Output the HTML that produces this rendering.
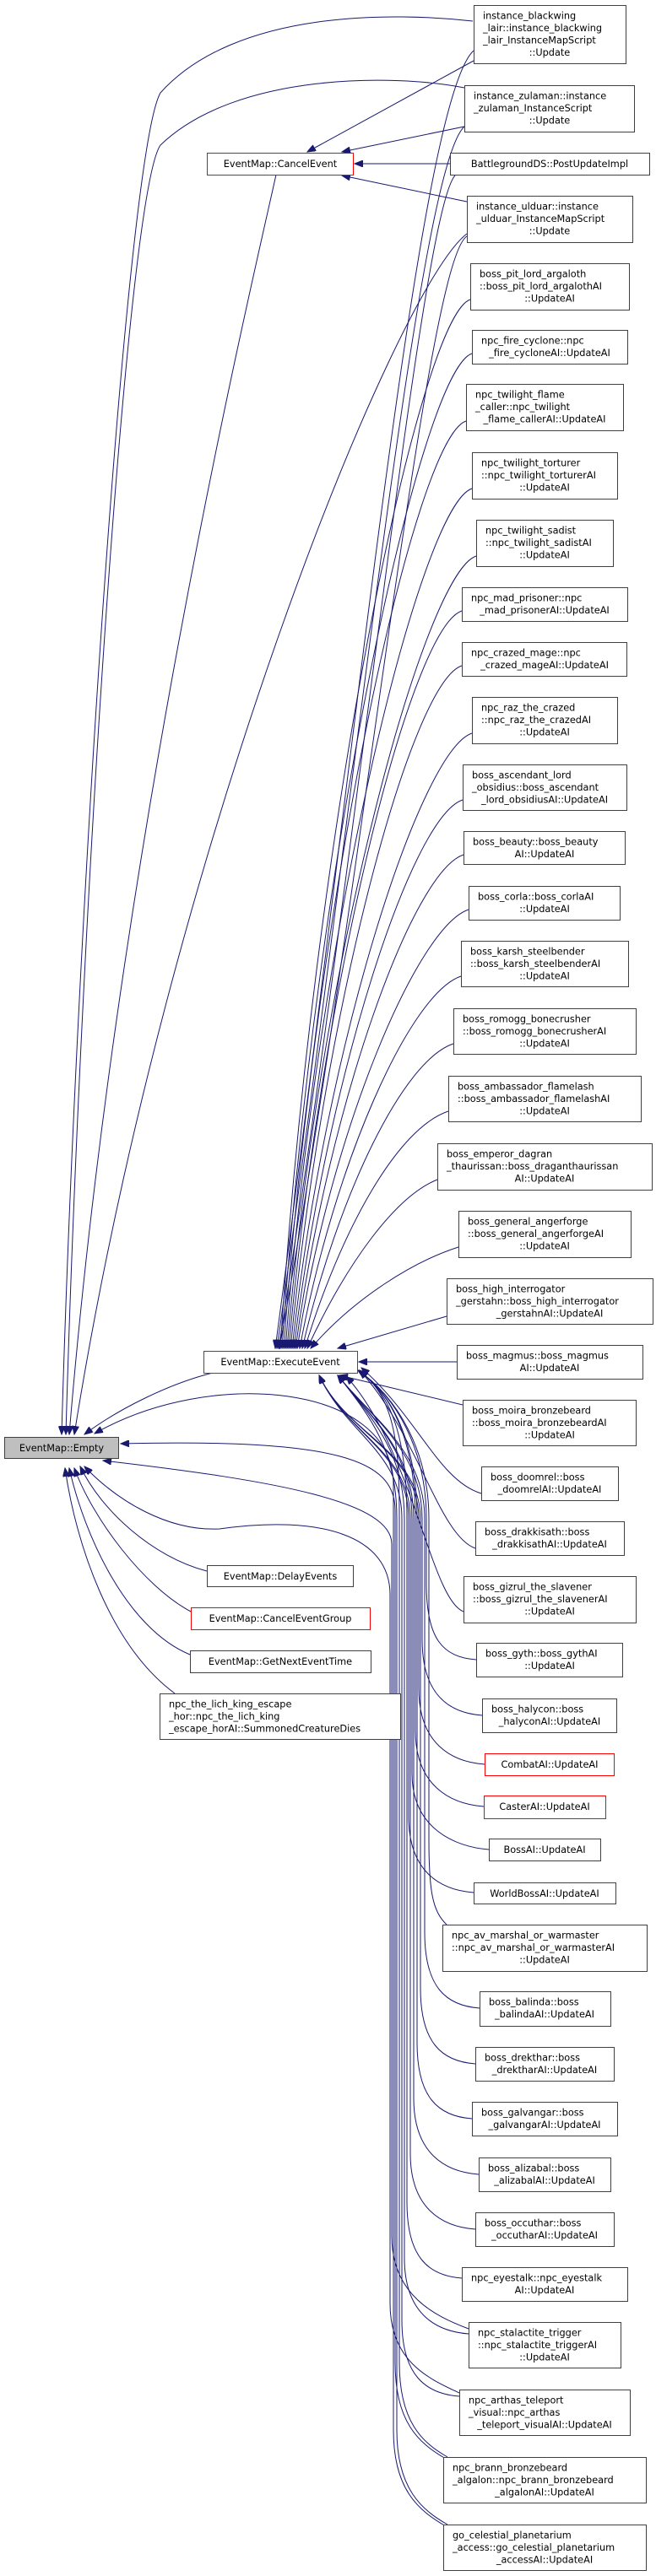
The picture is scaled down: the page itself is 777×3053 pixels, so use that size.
<!DOCTYPE html>
<html><head><meta charset="utf-8"><style>
html,body{margin:0;padding:0;background:#fff}
svg{display:block}
text{font-family:"DejaVu Sans","Liberation Sans",sans-serif;font-size:11.3px;fill:#000}
.c{text-anchor:middle}
.b{fill:#fff;stroke:#404040;stroke-width:1}
.r{fill:#fff;stroke:#ff0000;stroke-width:1}
.e path{fill:none;stroke:#191970;stroke-width:1;marker-end:url(#a)}
</style></head><body>
<svg width="777" height="3053" viewBox="0 0 777 3053" xmlns="http://www.w3.org/2000/svg">
<defs><marker id="a" markerUnits="userSpaceOnUse" markerWidth="11" markerHeight="8" refX="10" refY="4" orient="auto"><path d="M0,0 L10,4 L0,8 z" fill="#191970" stroke="#191970"/></marker></defs>
<g class="e">
<path d="M561,72 L364,180"/>
<path d="M550,150 L405,180"/>
<path d="M533,194 L420,194"/>
<path d="M553,239 L405,208"/>
<path d="M560,25 C470,15 280,10 190,110 C150,180 90,1100 73,1700"/>
<path d="M550,104 C470,88 280,85 190,172 C150,230 95,1100 78,1700"/>
<path d="M327,207 C300,330 140,1000 82,1700"/>
<path d="M553,277 C470,340 200,1000 88,1700"/>
<path d="M252,1627 C200,1640 140,1670 100,1700"/>
<path d="M245,1862 C180,1845 120,1790 95,1738"/>
<path d="M226,1910 C170,1880 110,1800 88,1740"/>
<path d="M225,1961 C150,1930 100,1820 82,1740"/>
<path d="M207,2007 C130,1950 90,1830 77,1740"/>
<path d="M528,2994 C495,2975 466,2950 466,2880 L466,1760 C466,1640 250,1620 112,1699"/>
<path d="M528,2914 C495,2895 468,2870 468,2800 L468,1790 C468,1730 400,1705 143,1711"/>
<path d="M555,2760 C515,2745 464,2720 464,2650 L464,1830 C464,1780 330,1755 122,1731"/>
<path d="M544,2836 C510,2820 462,2800 462,2730 L462,1890 C462,1820 380,1795 260,1812 C200,1815 140,1780 100,1738"/>
<path d="M561,60 C495,120 420,900 326,1598"/>
<path d="M550,150 C495,200 420,950 328,1598"/>
<path d="M540,207 C500,240 425,1000 330,1598"/>
<path d="M553,280 C505,310 430,1050 331,1598"/>
<path d="M557,355 C497,375 372,977 332,1598"/>
<path d="M559,419 C499,439 374,1008 334,1598"/>
<path d="M552,499 C492,519 376,1048 336,1598"/>
<path d="M559,579 C499,599 378,1088 338,1598"/>
<path d="M564,659 C504,679 380,1128 340,1598"/>
<path d="M547,724 C487,744 382,1161 342,1598"/>
<path d="M547,789 C487,809 384,1193 344,1598"/>
<path d="M559,869 C499,889 386,1233 346,1598"/>
<path d="M548,948 C488,968 388,1273 348,1598"/>
<path d="M549,1013 C489,1033 390,1305 350,1598"/>
<path d="M555,1078 C495,1098 392,1338 352,1598"/>
<path d="M546,1157 C486,1177 396,1377 355,1598"/>
<path d="M537,1237 C477,1257 400,1417 358,1598"/>
<path d="M531,1317 C471,1337 404,1457 361,1598"/>
<path d="M518,1398 C468,1418 410,1498 364,1598"/>
<path d="M543,1478 C490,1495 420,1538 368,1598"/>
<path d="M529,1560 L400,1598"/>
<path d="M541,1614 L425,1614"/>
<path d="M548,1665 L402,1630"/>
<path d="M570,1770 C520,1755 495,1680 428,1621"/>
<path d="M563,1835 C520,1820 495,1700 426,1624"/>
<path d="M549,1910 C510,1895 490,1720 410,1631"/>
<path d="M564,1967 C524,1964 505,1942 505,1877 L505,1800 C505,1720 470,1655 424,1624"/>
<path d="M571,2033 C531,2030 500,2008 500,1943 L500,1800 C500,1720 440,1680 400,1630"/>
<path d="M574,2091 C534,2088 496,2066 496,2001 L496,1800 C496,1720 410,1700 378,1630"/>
<path d="M573,2141 C533,2138 492,2116 492,2051 L492,1800 C492,1720 470,1655 424,1624"/>
<path d="M579,2192 C539,2189 488,2167 488,2102 L488,1800 C488,1720 440,1680 400,1630"/>
<path d="M561,2243 C521,2240 484,2218 484,2153 L484,1800 C484,1720 410,1700 378,1630"/>
<path d="M529,2281 C512,2265 508,2240 508,2180 L508,1800 C508,1720 470,1655 424,1624"/>
<path d="M568,2380 C528,2377 503,2355 503,2290 L503,1800 C503,1720 440,1680 400,1630"/>
<path d="M563,2446 C523,2443 498,2421 498,2356 L498,1800 C498,1720 410,1700 378,1630"/>
<path d="M559,2511 C519,2508 494,2486 494,2421 L494,1800 C494,1720 470,1655 424,1624"/>
<path d="M567,2577 C527,2574 490,2552 490,2487 L490,1800 C490,1720 440,1680 400,1630"/>
<path d="M563,2642 C523,2639 486,2617 486,2552 L486,1800 C486,1720 410,1700 378,1630"/>
<path d="M547,2700 C507,2697 482,2675 482,2610 L482,1800 C482,1720 470,1655 424,1624"/>
<path d="M555,2766 C515,2763 479,2741 479,2676 L479,1800 C479,1720 440,1680 400,1630"/>
<path d="M544,2840 C504,2837 476,2815 476,2750 L476,1800 C476,1720 410,1700 378,1630"/>
<path d="M530,2912 C500,2895 473,2870 473,2800 L473,1800 C473,1720 470,1655 424,1624"/>
<path d="M530,2992 C500,2975 470,2950 470,2880 L470,1800 C470,1720 440,1680 400,1630"/>
</g>

<rect class="r" x="245.5" y="181.5" width="173" height="26"/><text class="c" x="332" y="198">EventMap::CancelEvent</text>
<rect class="r" x="241.5" y="1601.5" width="182" height="26"/><text class="c" x="332" y="1618">EventMap::ExecuteEvent</text>
<rect x="5.5" y="1703.5" width="135" height="25" fill="#bfbfbf" stroke="#404040"/><text class="c" x="73" y="1720">EventMap::Empty</text>
<rect class="b" x="245.5" y="1855.5" width="173" height="25"/><text class="c" x="332" y="1872">EventMap::DelayEvents</text>
<rect class="r" x="226.5" y="1905.5" width="212" height="26"/><text class="c" x="332" y="1922">EventMap::CancelEventGroup</text>
<rect class="b" x="225.5" y="1956.5" width="214" height="26"/><text class="c" x="332" y="1973">EventMap::GetNextEventTime</text>
<rect class="b" x="189.5" y="2007.5" width="285" height="54"/><text x="200" y="2023.5">npc_the_lich_king_escape</text><text x="200" y="2038">_hor::npc_the_lich_king</text><text x="200" y="2052.5">_escape_horAI::SummonedCreatureDies</text>

<rect class="b" x="561.5" y="6.5" width="180" height="69"/><text x="572" y="22.5">instance_blackwing</text><text x="572" y="37">_lair::instance_blackwing</text><text x="572" y="51.5">_lair_InstanceMapScript</text><text class="c" x="651" y="66">::Update</text>
<rect class="b" x="550.5" y="101.5" width="201" height="55"/><text x="561" y="117.5">instance_zulaman::instance</text><text x="561" y="132">_zulaman_InstanceScript</text><text class="c" x="651" y="146.5">::Update</text>
<rect class="b" x="533.5" y="181.5" width="236" height="26"/><text class="c" x="651" y="198">BattlegroundDS::PostUpdateImpl</text>
<rect class="b" x="553.5" y="232.5" width="196" height="55"/><text x="564" y="248.5">instance_ulduar::instance</text><text x="564" y="263">_ulduar_InstanceMapScript</text><text class="c" x="651" y="277.5">::Update</text>
<rect class="b" x="557.5" y="312.5" width="188" height="55"/><text x="568" y="328.5">boss_pit_lord_argaloth</text><text x="568" y="343">::boss_pit_lord_argalothAI</text><text class="c" x="651" y="357.5">::UpdateAI</text>
<rect class="b" x="559.5" y="391.5" width="184" height="40"/><text x="570" y="407.5">npc_fire_cyclone::npc</text><text class="c" x="651" y="422">_fire_cycloneAI::UpdateAI</text>
<rect class="b" x="552.5" y="455.5" width="186" height="55"/><text x="563" y="471.5">npc_twilight_flame</text><text x="563" y="486">_caller::npc_twilight</text><text class="c" x="645" y="500.5">_flame_callerAI::UpdateAI</text>
<rect class="b" x="559.5" y="536.5" width="172" height="55"/><text x="570" y="552.5">npc_twilight_torturer</text><text x="570" y="567">::npc_twilight_torturerAI</text><text class="c" x="645" y="581.5">::UpdateAI</text>
<rect class="b" x="564.5" y="616.5" width="162" height="55"/><text x="575" y="632.5">npc_twilight_sadist</text><text x="575" y="647">::npc_twilight_sadistAI</text><text class="c" x="645" y="661.5">::UpdateAI</text>
<rect class="b" x="547.5" y="696.5" width="196" height="40"/><text x="558" y="712.5">npc_mad_prisoner::npc</text><text class="c" x="645" y="727">_mad_prisonerAI::UpdateAI</text>
<rect class="b" x="547.5" y="761.5" width="195" height="40"/><text x="558" y="777.5">npc_crazed_mage::npc</text><text class="c" x="645" y="792">_crazed_mageAI::UpdateAI</text>
<rect class="b" x="559.5" y="826.5" width="172" height="55"/><text x="570" y="842.5">npc_raz_the_crazed</text><text x="570" y="857">::npc_raz_the_crazedAI</text><text class="c" x="645" y="871.5">::UpdateAI</text>
<rect class="b" x="548.5" y="906.5" width="194" height="54"/><text x="559" y="922.5">boss_ascendant_lord</text><text x="559" y="937">_obsidius::boss_ascendant</text><text class="c" x="645" y="951.5">_lord_obsidiusAI::UpdateAI</text>
<rect class="b" x="549.5" y="985.5" width="191" height="39"/><text x="560" y="1001.5">boss_beauty::boss_beauty</text><text class="c" x="645" y="1016">AI::UpdateAI</text>
<rect class="b" x="555.5" y="1050.5" width="179" height="40"/><text x="566" y="1066.5">boss_corla::boss_corlaAI</text><text class="c" x="645" y="1081">::UpdateAI</text>
<rect class="b" x="546.5" y="1115.5" width="198" height="54"/><text x="557" y="1131.5">boss_karsh_steelbender</text><text x="557" y="1146">::boss_karsh_steelbenderAI</text><text class="c" x="645" y="1160.5">::UpdateAI</text>
<rect class="b" x="537.5" y="1195.5" width="216" height="54"/><text x="548" y="1211.5">boss_romogg_bonecrusher</text><text x="548" y="1226">::boss_romogg_bonecrusherAI</text><text class="c" x="645" y="1240.5">::UpdateAI</text>
<rect class="b" x="531.5" y="1275.5" width="228" height="54"/><text x="542" y="1291.5">boss_ambassador_flamelash</text><text x="542" y="1306">::boss_ambassador_flamelashAI</text><text class="c" x="645" y="1320.5">::UpdateAI</text>
<rect class="b" x="518.5" y="1355.5" width="254" height="55"/><text x="529" y="1371.5">boss_emperor_dagran</text><text x="529" y="1386">_thaurissan::boss_draganthaurissan</text><text class="c" x="645" y="1400.5">AI::UpdateAI</text>
<rect class="b" x="543.5" y="1435.5" width="204" height="55"/><text x="554" y="1451.5">boss_general_angerforge</text><text x="554" y="1466">::boss_general_angerforgeAI</text><text class="c" x="645" y="1480.5">::UpdateAI</text>
<rect class="b" x="529.5" y="1515.5" width="244" height="54"/><text x="540" y="1531.5">boss_high_interrogator</text><text x="540" y="1546">_gerstahn::boss_high_interrogator</text><text class="c" x="651" y="1560.5">_gerstahnAI::UpdateAI</text>
<rect class="b" x="541.5" y="1594.5" width="220" height="40"/><text x="552" y="1610.5">boss_magmus::boss_magmus</text><text class="c" x="651" y="1625">AI::UpdateAI</text>
<rect class="b" x="548.5" y="1659.5" width="205" height="54"/><text x="559" y="1675.5">boss_moira_bronzebeard</text><text x="559" y="1690">::boss_moira_bronzebeardAI</text><text class="c" x="651" y="1704.5">::UpdateAI</text>
<rect class="b" x="570.5" y="1738.5" width="162" height="40"/><text x="581" y="1754.5">boss_doomrel::boss</text><text class="c" x="651" y="1769">_doomrelAI::UpdateAI</text>
<rect class="b" x="563.5" y="1803.5" width="176" height="40"/><text x="574" y="1819.5">boss_drakkisath::boss</text><text class="c" x="651" y="1834">_drakkisathAI::UpdateAI</text>
<rect class="b" x="549.5" y="1868.5" width="204" height="55"/><text x="560" y="1884.5">boss_gizrul_the_slavener</text><text x="560" y="1899">::boss_gizrul_the_slavenerAI</text><text class="c" x="651" y="1913.5">::UpdateAI</text>
<rect class="b" x="564.5" y="1947.5" width="173" height="40"/><text x="575" y="1963.5">boss_gyth::boss_gythAI</text><text class="c" x="651" y="1978">::UpdateAI</text>
<rect class="b" x="571.5" y="2013.5" width="159" height="40"/><text x="582" y="2029.5">boss_halycon::boss</text><text class="c" x="651" y="2044">_halyconAI::UpdateAI</text>
<rect class="r" x="574.5" y="2078.5" width="153" height="26"/><text class="c" x="651" y="2095">CombatAI::UpdateAI</text>
<rect class="r" x="573.5" y="2128.5" width="144" height="27"/><text class="c" x="645" y="2145">CasterAI::UpdateAI</text>
<rect class="b" x="579.5" y="2179.5" width="132" height="26"/><text class="c" x="645" y="2196">BossAI::UpdateAI</text>
<rect class="b" x="561.5" y="2231.5" width="168" height="25"/><text class="c" x="645" y="2248">WorldBossAI::UpdateAI</text>
<rect class="b" x="524.5" y="2281.5" width="242" height="55"/><text x="535" y="2297.5">npc_av_marshal_or_warmaster</text><text x="535" y="2312">::npc_av_marshal_or_warmasterAI</text><text class="c" x="645" y="2326.5">::UpdateAI</text>
<rect class="b" x="568.5" y="2360.5" width="155" height="41"/><text x="579" y="2376.5">boss_balinda::boss</text><text class="c" x="645" y="2391">_balindaAI::UpdateAI</text>
<rect class="b" x="563.5" y="2426.5" width="164" height="40"/><text x="574" y="2442.5">boss_drekthar::boss</text><text class="c" x="645" y="2457">_drektharAI::UpdateAI</text>
<rect class="b" x="559.5" y="2491.5" width="172" height="40"/><text x="570" y="2507.5">boss_galvangar::boss</text><text class="c" x="645" y="2522">_galvangarAI::UpdateAI</text>
<rect class="b" x="567.5" y="2557.5" width="156" height="40"/><text x="578" y="2573.5">boss_alizabal::boss</text><text class="c" x="645" y="2588">_alizabalAI::UpdateAI</text>
<rect class="b" x="563.5" y="2622.5" width="164" height="40"/><text x="574" y="2638.5">boss_occuthar::boss</text><text class="c" x="645" y="2653">_occutharAI::UpdateAI</text>
<rect class="b" x="547.5" y="2687.5" width="196" height="40"/><text x="558" y="2703.5">npc_eyestalk::npc_eyestalk</text><text class="c" x="645" y="2718">AI::UpdateAI</text>
<rect class="b" x="555.5" y="2752.5" width="180" height="54"/><text x="566" y="2768.5">npc_stalactite_trigger</text><text x="566" y="2783">::npc_stalactite_triggerAI</text><text class="c" x="645" y="2797.5">::UpdateAI</text>
<rect class="b" x="544.5" y="2832.5" width="202" height="54"/><text x="555" y="2848.5">npc_arthas_teleport</text><text x="555" y="2863">_visual::npc_arthas</text><text class="c" x="645" y="2877.5">_teleport_visualAI::UpdateAI</text>
<rect class="b" x="525.5" y="2912.5" width="240" height="54"/><text x="536" y="2928.5">npc_brann_bronzebeard</text><text x="536" y="2943">_algalon::npc_brann_bronzebeard</text><text class="c" x="645" y="2957.5">_algalonAI::UpdateAI</text>
<rect class="b" x="525.5" y="2992.5" width="240" height="54"/><text x="536" y="3008.5">go_celestial_planetarium</text><text x="536" y="3023">_access::go_celestial_planetarium</text><text class="c" x="645" y="3037.5">_accessAI::UpdateAI</text>
</svg>
</body></html>
